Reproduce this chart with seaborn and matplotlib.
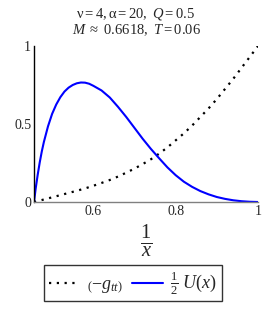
import matplotlib
matplotlib.use("Agg")
import matplotlib.pyplot as plt
import seaborn as sns
import pandas as pd
from matplotlib.lines import Line2D

sns.set_theme(style="white")
plt.rcParams['font.family'] = ['Liberation Serif', 'DejaVu Serif']
plt.rcParams['mathtext.fontset'] = 'custom'
plt.rcParams['mathtext.rm'] = 'Liberation Serif'
plt.rcParams['mathtext.it'] = 'Liberation Serif:italic'
plt.rcParams['mathtext.bf'] = 'Liberation Serif:bold'

# data
x_gtt = [0.456, 0.48, 0.50, 0.52, 0.54, 0.56, 0.58, 0.60, 0.62, 0.64, 0.66, 0.68, 0.70,
         0.72, 0.74, 0.76, 0.78, 0.80, 0.82, 0.84, 0.86, 0.88, 0.90, 0.92, 0.94, 0.96,
         0.98, 1.0]
y_gtt = [0.0, 0.016, 0.03, 0.044, 0.058, 0.072, 0.087, 0.104, 0.122, 0.141, 0.163, 0.188,
         0.214, 0.243, 0.274, 0.31, 0.35, 0.395, 0.44, 0.49, 0.545, 0.60, 0.66, 0.725,
         0.79, 0.86, 0.93, 1.0]

x_u = [0.456, 0.46, 0.465, 0.47, 0.475, 0.48, 0.49, 0.50, 0.51, 0.52, 0.53, 0.54, 0.55,
       0.56, 0.57, 0.58, 0.59, 0.60, 0.62, 0.64, 0.66, 0.68, 0.70, 0.72, 0.74, 0.76,
       0.78, 0.80, 0.82, 0.84, 0.86, 0.88, 0.90, 0.92, 0.94, 0.96, 0.98, 1.0]
y_u = [0.0, 0.085, 0.175, 0.255, 0.325, 0.385, 0.485, 0.565, 0.625, 0.672, 0.708, 0.733,
       0.75, 0.761, 0.766, 0.765, 0.758, 0.745, 0.715, 0.67, 0.61, 0.545, 0.475, 0.405,
       0.34, 0.28, 0.222, 0.172, 0.13, 0.097, 0.07, 0.049, 0.032, 0.02, 0.011, 0.005,
       0.0015, 0.0]

x_ticks = [0.6, 0.8, 1.0]
x_tick_labels = ["0.6", "0.8", "1"]
y_ticks = [0, 0.5, 1]
y_tick_labels = ["0", "0.5", "1"]

df_g = pd.DataFrame({"x": x_gtt, "y": y_gtt})
df_u = pd.DataFrame({"x": x_u, "y": y_u})

fig = plt.figure(figsize=(2.67, 3.10), dpi=100)
ax = fig.add_axes([34/267, 1-202/310, (258-34)/267, (202-46)/310])

sns.lineplot(data=df_g, x="x", y="y", ax=ax, color="black", lw=1.6,
             linestyle=(0, (1, 2.5)), estimator=None, sort=False)
sns.lineplot(data=df_u, x="x", y="y", ax=ax, color="#0000ff", lw=1.5,
             estimator=None, sort=False)

ax.set_xlim(0.456, 1.0)
ax.set_ylim(0, 1.0)
ax.set_xticks(x_ticks)
ax.set_xticklabels(x_tick_labels)
ax.set_yticks(y_ticks)
ax.set_yticklabels(y_tick_labels)
ax.tick_params(axis='both', labelsize=10, length=2, direction='in', color='gray', pad=2)
for s in ['top', 'right']:
    ax.spines[s].set_visible(False)
ax.spines['left'].set_color('black')
ax.spines['bottom'].set_color('gray')
ax.spines['left'].set_linewidth(1.0)
ax.spines['bottom'].set_linewidth(1.0)
ax.set_ylabel("")
ax.set_xlabel(r"$\frac{1}{x}$", fontsize=21, labelpad=3)

fig.text(136/267, 1-14/310, r"$\mathrm{\nu = 4, \alpha = 20,}\ Q\mathrm{ = 0.5}$",
         ha='center', va='center', fontsize=10.5)
fig.text(136/267, 1-30/310, r"$M\ \approx\ \mathrm{0.6618,}\ T\mathrm{ = 0.06}$",
         ha='center', va='center', fontsize=10.5)

handles = [Line2D([], [], color='black', lw=1.6, linestyle=(0, (1, 2.5))),
           Line2D([], [], color='#0000ff', lw=1.5)]
labels = [r"$\left(-g_{tt}\right)$", r"$\frac{1}{2}\ U(x)$"]
leg = fig.legend(handles, labels, loc='center', bbox_to_anchor=(133/267, 1-283/310),
                 ncol=2, frameon=True, fancybox=False, edgecolor='black',
                 fontsize=13, handlelength=1.7, handletextpad=0.4, columnspacing=0.5,
                 borderpad=0.25, borderaxespad=0)
leg.get_frame().set_linewidth(1.0)

fig.savefig("out.png", dpi=100)
